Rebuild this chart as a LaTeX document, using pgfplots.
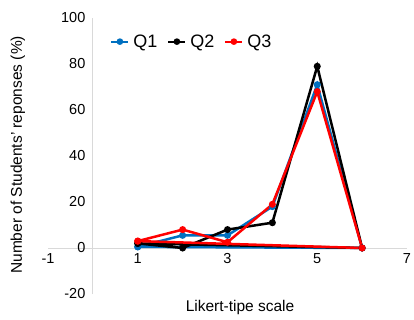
\documentclass[border=0pt]{standalone}
\usepackage{fontspec}
\setmainfont{Liberation Sans}
\usepackage{pgfplots}
\pgfplotsset{compat=1.18}
\definecolor{qblue}{RGB}{0,112,192}
\definecolor{qred}{RGB}{255,0,0}
\definecolor{axgray}{RGB}{217,217,217}
\begin{document}
\begin{tikzpicture}
\begin{axis}[
  at={(0,0)}, anchor=south west,
  scale only axis, width=359bp, height=276bp,
  xmin=-1, xmax=7, ymin=-20, ymax=100,
  axis lines=middle,
  axis line style={axgray, line width=0.8bp, -},
  xtick={-1,1,3,5,7},
  ytick={-20,0,20,40,60,80,100},
  major tick length=0pt,
  hide obscured x ticks=false, hide obscured y ticks=false,
  /pgf/number format/assume math mode=true,
  tick label style={font=\fontsize{14.5bp}{16bp}\selectfont},
  yticklabel style={xshift=-4bp},
  xticklabel style={yshift=-2bp},
  xlabel={Likert-tipe scale},
  ylabel={Number of Students' reponses (\%)},
  xlabel style={at={(axis description cs:0.535,-0.05)}, anchor=center, font=\fontsize{15.5bp}{18bp}\selectfont},
  ylabel style={at={(axis description cs:-0.084,0.504)}, anchor=center, rotate=90, font=\fontsize{15.5bp}{18bp}\selectfont},
  clip=false,
  legend columns=-1,
  legend style={at={(axis description cs:0.165,0.955)}, anchor=north west, draw=none, fill=none,
    font=\fontsize{18bp}{20bp}\selectfont, column sep=2bp,
    /tikz/every even column/.append style={column sep=8bp}},
  legend image code/.code={\draw[#1, line width=2bp] (0bp,0bp) -- (17bp,0bp); \fill[#1] (8.5bp,0bp) circle (2bp);},
  every axis plot/.append style={line width=2.5bp, mark=*, mark size=2.2bp},
]
\addplot[qblue, mark options={fill=qblue, draw=qblue}] coordinates {(1,0.5) (2,5.5) (3,5.5) (4,18) (5,71) (6,0) (1,0.5)};
\addlegendentry{Q1}
\addplot[black, mark options={fill=black, draw=black}] coordinates {(1,2) (2,0) (3,8) (4,11) (5,79) (6,0) (1,2)};
\addlegendentry{Q2}
\addplot[qred, mark options={fill=qred, draw=qred}] coordinates {(1,3) (2,8) (3,2.5) (4,19) (5,68) (6,0) (1,3)};
\addlegendentry{Q3}
\end{axis}
\pgfresetboundingbox
\path[use as bounding box] (-48bp,-26bp) rectangle (366bp,294bp);
\end{tikzpicture}
\end{document}
